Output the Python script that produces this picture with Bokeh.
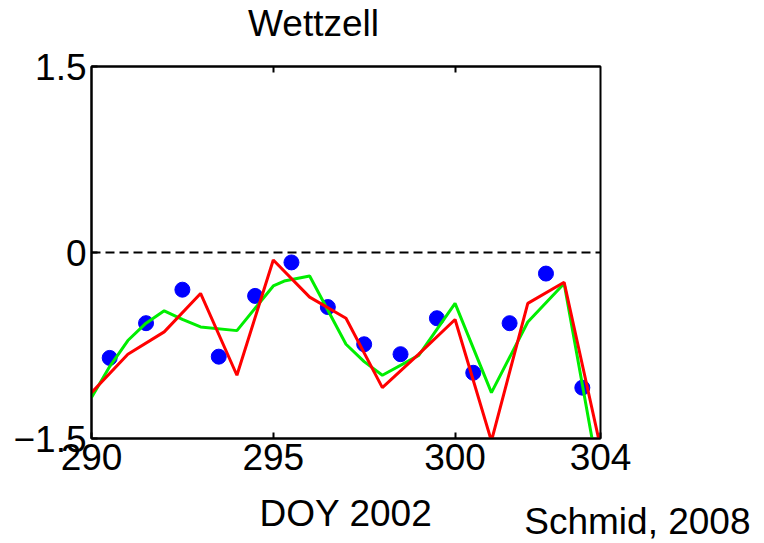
from bokeh.plotting import figure
from bokeh.models import Span, LinearAxis, FixedTicker, Range1d, CustomJSTickFormatter, Label, Title
from bokeh.embed import file_html
from bokeh.resources import INLINE

# ---- data ----
obs_days = [290.5, 291.5, 292.5, 293.5, 294.5, 295.5, 296.5,
            297.5, 298.5, 299.5, 300.5, 301.5, 302.5, 303.5]
obs_vals = [-0.85, -0.57, -0.30, -0.84, -0.35, -0.08, -0.44,
            -0.74, -0.82, -0.53, -0.97, -0.57, -0.17, -1.09]

green_days = [290, 290.5, 291, 291.5, 292, 292.5, 293, 294, 295, 295.3, 296,
              297, 297.5, 298, 299, 300, 301, 302, 303, 304]
green_vals = [-1.17, -0.92, -0.71, -0.57, -0.47, -0.54, -0.60, -0.63, -0.27, -0.23, -0.19,
              -0.74, -0.88, -0.99, -0.83, -0.41, -1.13, -0.56, -0.25, -1.88]

red_days = [290, 291, 292, 293, 294, 295, 296, 297, 298, 299, 300, 301, 302, 303, 304]
red_vals = [-1.13, -0.82, -0.64, -0.33, -0.99, -0.06, -0.36, -0.53, -1.09, -0.82,
            -0.54, -1.52, -0.41, -0.24, -1.57]

x_ticks = [290, 295, 300, 304]
x_inner_ticks = [295, 300]
y_ticks = [-1.5, 0, 1.5]
x_lim = (290, 304)
y_lim = (-1.5, 1.5)
zero_level = 0

title_text = "Wettzell"
xlabel_text = "DOY 2002"
credit_text = "Schmid, 2008"

FONT = "Liberation Sans"
FS = "37px"
W = 762

p = figure(width=W, height=541,
           x_range=Range1d(*x_lim), y_range=Range1d(*y_lim),
           output_backend="svg", toolbar_location=None,
           min_border_left=91, min_border_right=W - 600,
           min_border_top=66, min_border_bottom=103)
p.grid.visible = False
p.background_fill_color = "white"
p.border_fill_color = "white"
p.outline_line_color = "black"
p.outline_line_width = 2


def style_axis(ax, ticks, labels=True):
    ax.ticker = FixedTicker(ticks=ticks)
    ax.axis_line_color = "black"
    ax.axis_line_width = 2
    ax.major_tick_line_color = "black"
    ax.major_tick_line_width = 2
    ax.major_tick_in = 6
    ax.major_tick_out = 0
    ax.minor_tick_line_color = None
    if labels:
        ax.major_label_text_font = FONT
        ax.major_label_text_font_size = FS
        ax.major_label_text_color = "black"
    else:
        ax.formatter = CustomJSTickFormatter(code="return ''")
        ax.major_label_standoff = 0


xa = p.xaxis[0]
style_axis(xa, x_ticks)
xa.major_label_standoff = 5
xa.axis_label = xlabel_text
xa.axis_label_text_font = FONT
xa.axis_label_text_font_size = FS
xa.axis_label_text_font_style = "normal"
xa.axis_label_text_color = "black"
xa.axis_label_standoff = 20

style_axis(p.yaxis[0], y_ticks)
p.yaxis[0].major_label_standoff = 5

top_ax = LinearAxis()
style_axis(top_ax, x_inner_ticks, labels=False)
p.add_layout(top_ax, "above")

p.add_layout(Label(x=222, y=43, x_units="screen", y_units="screen", text=title_text,
                   text_align="center", text_baseline="alphabetic",
                   text_font=FONT, text_font_size=FS, text_color="black"), "above")

credit = Title(text=credit_text, align="right", offset=-150, vertical_align="top",
               standoff=-72, text_font=FONT, text_font_size=FS,
               text_font_style="normal", text_color="black")
p.add_layout(credit, "below")

p.add_layout(Span(location=zero_level, dimension="width", line_color="black",
                  line_width=2, line_dash="9 5"))

p.scatter(obs_days, obs_vals, size=15, color="#0000ff", line_color="#0000ff")
p.line(green_days, green_vals, color="#00ee00", line_width=3)
p.line(red_days, red_vals, color="#ff0000", line_width=3)

open("out.html", "w").write(file_html(p, INLINE))
